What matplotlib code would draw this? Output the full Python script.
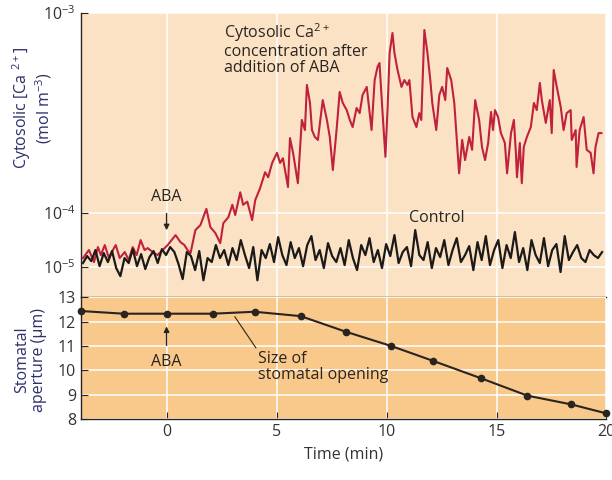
import numpy as np
import matplotlib
matplotlib.use("Agg")
import matplotlib.pyplot as plt

# cytosolic Ca2+ after ABA (red trace), time in min, conc in mol m^-3
aba_t = [-3.80, -3.53, -3.30, -3.12, -2.99, -2.81, -2.62, -2.44, -2.31, -2.13,
         -1.90, -1.72, -1.54, -1.36, -1.18, -1.00, -0.86, -0.63, -0.41, -0.18,
         0.05, 0.23, 0.41, 0.63, 0.81, 0.95, 1.09, 1.31, 1.54, 1.81,
         1.99, 2.22, 2.44, 2.58, 2.81, 2.99, 3.12, 3.35, 3.48, 3.67,
         3.89, 4.03, 4.25, 4.48, 4.62, 4.80, 5.02, 5.16, 5.29, 5.52,
         5.61, 5.75, 5.97, 6.15, 6.29, 6.38, 6.52, 6.61, 6.74, 6.88,
         7.10, 7.29, 7.42, 7.56, 7.74, 7.87, 8.01, 8.19, 8.33, 8.46,
         8.64, 8.78, 8.91, 9.10, 9.32, 9.46, 9.59, 9.68, 9.82, 9.95,
         10.05, 10.14, 10.27, 10.36, 10.50, 10.68, 10.81, 10.95, 11.04, 11.18,
         11.36, 11.49, 11.58, 11.72, 11.86, 11.99, 12.08, 12.26, 12.40, 12.53,
         12.67, 12.76, 12.94, 13.08, 13.30, 13.44, 13.57, 13.76, 13.89, 14.03,
         14.21, 14.34, 14.48, 14.62, 14.75, 14.84, 14.93, 15.07, 15.20, 15.38,
         15.48, 15.66, 15.79, 15.88, 15.93, 16.06, 16.15, 16.24, 16.38, 16.56,
         16.70, 16.83, 16.97, 17.06, 17.24, 17.42, 17.51, 17.60, 17.74, 17.92,
         18.05, 18.19, 18.37, 18.42, 18.60, 18.64, 18.78, 18.96, 19.10, 19.28,
         19.41, 19.50, 19.64, 19.77]
aba_ca = [1.47e-5, 2.07e-5, 1.24e-5, 2.35e-5, 1.67e-5, 2.56e-5, 1.47e-5, 2.07e-5, 2.56e-5, 1.47e-5,
          1.90e-5, 1.35e-5, 2.35e-5, 1.67e-5, 3.16e-5, 2.07e-5, 2.25e-5, 1.90e-5, 1.67e-5, 2.07e-5,
          2.56e-5, 3.16e-5, 3.91e-5, 2.90e-5, 2.56e-5, 2.07e-5, 1.82e-5, 4.84e-5, 6.0e-5, 1.05e-4,
          5.5e-5, 4.26e-5, 2.78e-5, 6.5e-5, 8.4e-5, 1.10e-4, 9.2e-5, 1.27e-4, 1.10e-4, 1.14e-4,
          7.4e-5, 1.16e-4, 1.33e-4, 1.60e-4, 1.51e-4, 1.78e-4, 2.0e-4, 1.78e-4, 1.88e-4, 1.35e-4,
          2.37e-4, 2.0e-4, 1.41e-4, 2.92e-4, 2.60e-4, 4.37e-4, 3.55e-4, 2.60e-4, 2.40e-4, 2.32e-4,
          3.67e-4, 2.92e-4, 2.40e-4, 1.64e-4, 2.69e-4, 4.03e-4, 3.55e-4, 3.27e-4, 2.92e-4, 2.69e-4,
          3.35e-4, 3.16e-4, 3.89e-4, 4.27e-4, 2.60e-4, 4.62e-4, 5.37e-4, 5.62e-4, 3.16e-4, 1.91e-4,
          3.39e-4, 6.31e-4, 7.94e-4, 6.31e-4, 5.19e-4, 4.27e-4, 4.62e-4, 4.37e-4, 4.62e-4, 3.02e-4,
          2.69e-4, 3.16e-4, 2.92e-4, 8.22e-4, 6.31e-4, 4.62e-4, 3.55e-4, 2.60e-4, 3.89e-4, 4.27e-4,
          3.67e-4, 5.31e-4, 4.62e-4, 3.55e-4, 1.58e-4, 2.32e-4, 1.84e-4, 2.40e-4, 2.07e-4, 3.67e-4,
          2.92e-4, 2.14e-4, 1.84e-4, 2.24e-4, 3.20e-4, 2.60e-4, 3.27e-4, 3.02e-4, 2.51e-4, 2.24e-4,
          1.58e-4, 2.51e-4, 2.92e-4, 2.0e-4, 1.51e-4, 2.24e-4, 1.41e-4, 2.14e-4, 2.40e-4, 2.69e-4,
          3.55e-4, 3.27e-4, 4.47e-4, 3.67e-4, 2.82e-4, 3.67e-4, 2.51e-4, 5.19e-4, 4.27e-4, 3.39e-4,
          2.60e-4, 3.16e-4, 3.27e-4, 2.32e-4, 2.60e-4, 1.70e-4, 2.60e-4, 3.02e-4, 2.07e-4, 2.0e-4,
          1.58e-4, 2.14e-4, 2.51e-4, 2.51e-4]

# control trace, in units of 1e-5 mol m^-3, read at even steps from -3.8 to 19.8 min
control_ca = [1.19, 1.60, 1.29, 2.07, 1.04, 1.82, 1.24, 1.98, 0.96, 0.68,
              1.47, 1.19, 2.15, 1.04, 1.74, 0.92, 1.53, 1.98, 1.19, 2.15,
              1.67, 2.35, 1.90, 1.14, 0.60, 1.90, 1.60, 0.88, 1.98, 0.57, 1.47,
              1.24, 2.56, 1.47, 2.07, 1.09, 2.25, 1.35, 3.16, 1.67, 0.96,
              2.35, 0.57, 2.07, 1.47, 2.67, 1.24, 3.59, 1.67, 1.09, 2.90,
              1.47, 2.25, 1.04, 2.56, 3.75, 1.35, 2.07, 0.96, 2.78, 1.60, 1.24,
              2.25, 1.09, 3.16, 1.47, 0.88, 2.56, 1.67, 3.44, 1.24, 2.07,
              0.96, 2.67, 1.60, 3.91, 1.19, 1.90, 2.35, 1.04, 4.84, 1.67,
              1.35, 2.90, 0.96, 2.25, 1.53, 3.16, 1.09, 2.07, 3.44, 1.24, 1.67,
              2.45, 0.88, 2.90, 1.35, 3.75, 1.09, 2.07, 3.16, 0.96, 2.56,
              1.47, 4.45, 1.24, 2.25, 0.88, 3.16, 1.67, 1.19, 3.44, 1.04,
              2.07, 2.67, 0.81, 3.75, 1.35, 1.90, 2.56, 1.47, 1.24, 2.07,
              1.67, 1.47, 1.90]
control_t = np.linspace(-3.8, 19.8, len(control_ca))

# stomatal aperture
aperture_t = [-3.9, -1.95, 0, 2.1, 4.0, 6.1, 8.15, 10.2, 12.1, 14.3, 16.4, 18.4, 20.0]
aperture_um = [12.43, 12.32, 12.32, 12.32, 12.40, 12.22, 11.58, 11.0, 10.39, 9.67, 8.96, 8.60, 8.23]

plt.rcParams['font.family'] = ['Open Sans', 'DejaVu Sans']
plt.rcParams['mathtext.fontset'] = 'custom'
plt.rcParams['mathtext.rm'] = 'Open Sans'
plt.rcParams['mathtext.it'] = 'Open Sans:italic'

ink = '#2a2420'
navy = '#2d2f6b'
fs = 11.5


# the book axis squeezes the lowest decade
def fwd(v):
    L = np.log10(np.clip(v, 1e-12, None))
    return np.where(L < -4, 54 * (L + 5), 54 + 200 * (L + 4))


def inv(p):
    return 10 ** np.where(p < 54, p / 54 - 5, (p - 54) / 200 - 4)


fig = plt.figure(figsize=(6.12, 4.8), dpi=100)
ax1 = fig.add_axes([0.132, 0.381, 0.859, 0.592])
ax2 = fig.add_axes([0.132, 0.127, 0.859, 0.254])

for ax, bg in ((ax1, '#fce2c4'), (ax2, '#f8c98b')):
    ax.set_facecolor(bg)
    ax.set_axisbelow(True)
    ax.grid(True, color='white', lw=1.1)
    for s in ('top', 'right'):
        ax.spines[s].set_visible(False)
    for s in ('left', 'bottom'):
        ax.spines[s].set_color(ink)
        ax.spines[s].set_linewidth(1.0)
    ax.set_xlim(-3.9, 20)
    ax.set_xticks([0, 5, 10, 15, 20])
    ax.tick_params(direction='in', length=5, color=ink, labelsize=fs, labelcolor='#333333')

# top panel
ax1.set_yscale('function', functions=(fwd, inv))
ax1.set_ylim(inv(-30.0), 1e-3)
ax1.set_yticks([1e-5, 1e-4, 1e-3])
ax1.set_yticklabels([r'$10^{-5}$', r'$10^{-4}$', r'$10^{-3}$'])
ax1.yaxis.set_minor_locator(plt.NullLocator())
ax1.tick_params(axis='x', length=0, labelbottom=False)

ax1.plot(control_t, np.array(control_ca) * 1e-5, color='#1c1a18', lw=1.6, zorder=3)
ax1.plot(aba_t, aba_ca, color='#c0213c', lw=1.5, zorder=2)

ax1.text(2.6, inv(246.0), 'Cytosolic Ca$^{2+}$\nconcentration after\naddition of ABA',
         ha='left', va='top', fontsize=fs, color=ink, linespacing=1.0)
ax1.text(11.0, 8.0e-5, 'Control', ha='left', va='center', fontsize=fs, color=ink)
ax1.annotate('ABA', xy=(0, 4.8e-5), xytext=(0, 1.2e-4), ha='center', va='center',
             fontsize=fs, color=ink,
             arrowprops=dict(arrowstyle='-|>', color=ink, lw=1, shrinkA=4, shrinkB=0,
                             mutation_scale=8))

# bottom panel
ax2.set_ylim(8, 13)
ax2.set_yticks([8, 9, 10, 11, 12, 13])
ax2.plot(aperture_t, aperture_um, color=ink, lw=1.5, marker='o', ms=4.5, clip_on=False)
ax2.set_xlabel('Time (min)', fontsize=fs, color='#333333', labelpad=5)

ax2.annotate('ABA', xy=(0, 11.8), xytext=(0, 10.35), ha='center', va='center',
             fontsize=fs, color=ink,
             arrowprops=dict(arrowstyle='-|>', color=ink, lw=1, shrinkA=4, shrinkB=0,
                             mutation_scale=8))
ax2.annotate('Size of\nstomatal opening', xy=(3.1, 12.2), xytext=(4.15, 10.8),
             ha='left', va='top', fontsize=fs, color=ink, linespacing=1.0,
             arrowprops=dict(arrowstyle='-', color=ink, lw=0.8, shrinkA=0, shrinkB=0,
                             relpos=(0, 1)))

fig.text(0.052, 0.775, 'Cytosolic [Ca $^{2+}$]\n(mol m$^{-3}$)', rotation=90,
         ha='center', va='center', fontsize=fs, color=navy, multialignment='center',
         linespacing=1.0)
fig.text(0.05, 0.25, 'Stomatal\naperture (µm)', rotation=90, ha='center', va='center',
         fontsize=fs, color=navy, multialignment='center', linespacing=1.0)

fig.savefig('out.png', dpi=100)
